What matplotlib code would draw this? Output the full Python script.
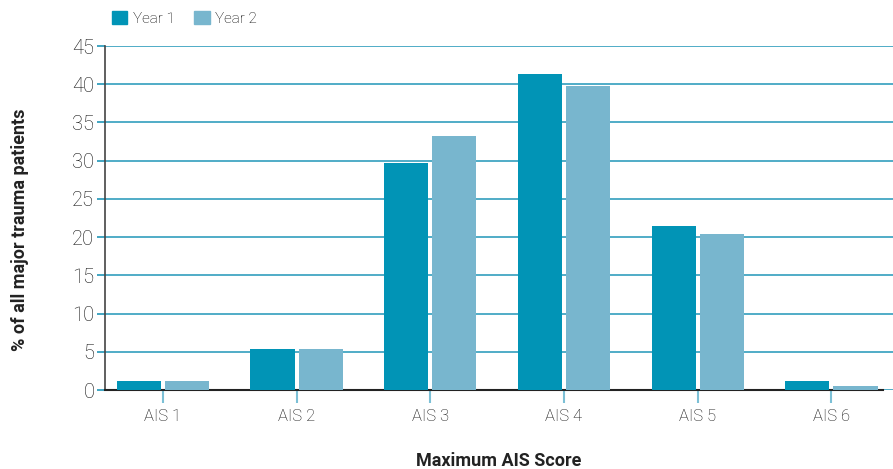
import numpy as np
import matplotlib.pyplot as plt
from matplotlib.patches import Patch

categories = ["AIS 1", "AIS 2", "AIS 3", "AIS 4", "AIS 5", "AIS 6"]
year1 = [1.2, 5.4, 29.7, 41.3, 21.5, 1.2]
year2 = [1.2, 5.4, 33.2, 39.8, 20.4, 0.5]
series_names = ["Year 1", "Year 2"]
yticks = list(range(0, 50, 5))

c1 = "#0194b6"
c2 = "#78b6ce"
grid_c = "#2196b8"

plt.rcParams['font.family'] = ['Roboto', 'DejaVu Sans']

fig = plt.figure(figsize=(8.93, 4.69), dpi=100)
ax = fig.add_axes([0.118, 0.1684, 0.882, 0.7335])

x = np.arange(len(categories))
w = 0.33
off = 0.18
ax.bar(x - off, year1, w, color=c1, zorder=3)
ax.bar(x + off, year2, w, color=c2, zorder=3)

ax.set_xlim(-0.43, 5.46)
ax.set_ylim(0, 45)
ax.set_yticks(yticks)
ax.set_yticklabels([str(v) for v in yticks], fontsize=14.5, fontweight='light', color="#111111")
ax.set_xticks(x)
ax.set_xticklabels(categories, fontsize=12, fontweight='light', color="#111111")

ax.yaxis.grid(True, color=grid_c, linewidth=1.1, zorder=0)
ax.tick_params(axis='y', length=6, width=1.2, color=grid_c, pad=2)
ax.tick_params(axis='x', length=9, width=1.5, color="#7cc0d6", pad=5)

for s in ['top', 'right']:
    ax.spines[s].set_visible(False)
ax.spines['left'].set_color("#444444")
ax.spines['left'].set_linewidth(1.2)
ax.spines['bottom'].set_color("#222222")
ax.spines['bottom'].set_linewidth(1.5)
ax.spines['bottom'].set_bounds(-0.43, 5.385)

ax.set_ylabel("% of all major trauma patients", fontsize=13, fontweight='bold',
              color="#222222")
ax.yaxis.set_label_coords(-0.097, 0.465)
ax.set_xlabel("Maximum AIS Score", fontsize=13, fontweight='bold', color="#222222")
ax.xaxis.set_label_coords(0.5, -0.18)

handles = [Patch(color=c1), Patch(color=c2)]
fig.legend(handles, series_names, loc='upper left', bbox_to_anchor=(0.11, 1.005),
           ncol=2, frameon=False, handlelength=1.0, handleheight=0.9,
           handletextpad=0.35, columnspacing=1.3,
           prop={'family': ['Roboto', 'DejaVu Sans'], 'weight': 'light', 'size': 11})

fig.savefig("out.png", dpi=100)
